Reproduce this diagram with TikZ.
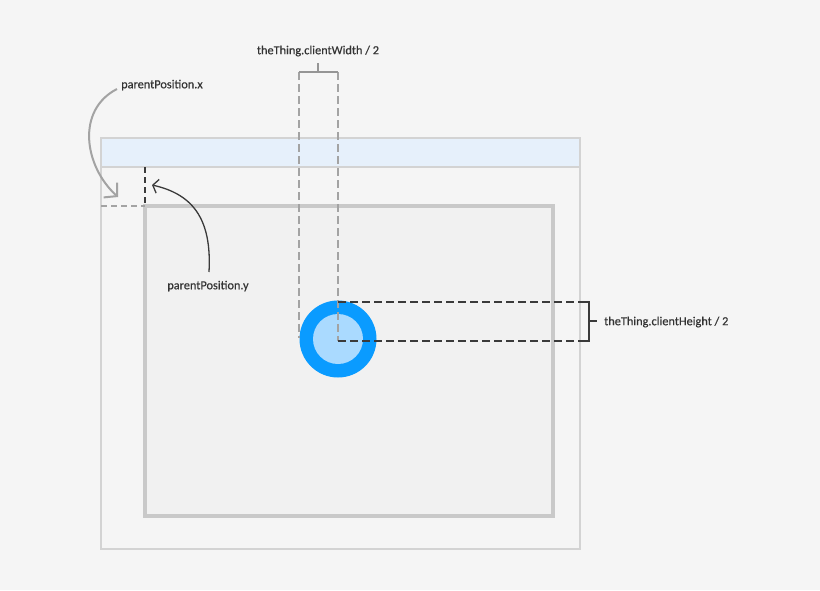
\documentclass[tikz,border=0pt]{standalone}
\usepackage{fontspec}
\setmainfont{Carlito}[FakeBold=0.4]
\usetikzlibrary{arrows.meta}
\definecolor{bgcol}{HTML}{F5F5F5}
\definecolor{innerfill}{HTML}{F1F1F1}
\definecolor{innerborder}{HTML}{C9C9C9}
\definecolor{winborder}{HTML}{D3D3D3}
\definecolor{titlefill}{HTML}{E6F0FB}
\definecolor{ringblue}{HTML}{0A9BFF}
\definecolor{coreblue}{HTML}{AADAFF}
\definecolor{dashgrey}{HTML}{A3A3A3}
\definecolor{brgrey}{HTML}{959595}
\definecolor{darkline}{HTML}{3A3A3A}
\definecolor{txt}{HTML}{333333}
\tikzset{
  box/.style={rectangle, inner sep=0pt, outer sep=0pt, anchor=north west},
  lbl/.style={text=txt, font=\fontsize{12.3}{14}\selectfont, inner sep=0pt},
  greydash/.style={draw=dashgrey, line width=2pt, dash pattern=on 8pt off 4pt},
  darkdash/.style={draw=darkline, line width=2.2pt, dash pattern=on 8pt off 4pt},
  greybracket/.style={draw=brgrey, line width=2pt},
  darkbracket/.style={draw=darkline, line width=2pt},
}
\begin{document}
\begin{tikzpicture}[x=1pt,y=-1pt]
\fill[bgcol] (0,0) rectangle (820,590);
\useasboundingbox (0,0) rectangle (820,590);
% outer window
\node[box, draw=winborder, line width=1.3pt, fill=bgcol, minimum width=479pt, minimum height=411pt] (win) at (101,138) {};
\node[box, draw=winborder, line width=1.3pt, fill=titlefill, minimum width=479pt, minimum height=29pt] (title) at (101,138) {};
% inner container
\node[box, draw=innerborder, line width=4pt, fill=innerfill, minimum width=408pt, minimum height=310pt] (inner) at (145,206) {};
% the thing
\node[circle, fill=ringblue, minimum size=77pt, inner sep=0pt] (ring) at (338,339) {};
\node[circle, fill=coreblue, minimum size=50pt, inner sep=0pt] (core) at (338,339) {};
% coordinates
\coordinate (wl) at (299,72);
\coordinate (wr) at (338,72);
\coordinate (wt) at (318,63);
\coordinate (wm) at (318,72);
\coordinate (wlb) at (299,338);
\coordinate (wrb) at (338,341);
\coordinate (ht) at (338,302);
\coordinate (hte) at (589,302);
\coordinate (hbe) at (589,341);
\coordinate (hm) at (589,321);
\coordinate (htick) at (597,321);
% width guides
\draw[greydash] (wl) -- (wlb);
\draw[greydash] (wr) -- (wrb);
\draw[greybracket] (wl) -- (wr) (wm) -- (wt);
% height guides
\draw[darkdash] (ht) -- (585,302);
\draw[darkdash] (wrb) -- (585,341);
\draw[darkbracket] (584,302) -- (hte) -- (hbe) -- (584,341) (hm) -- (htick);
% parent position guides
\coordinate (px0) at (101,206);
\coordinate (pcorner) at (145,206);
\coordinate (py0) at (145,167);
\draw[draw=dashgrey, line width=1.6pt, dash pattern=on 6pt off 4pt] (px0) -- (pcorner);
\draw[draw=darkline, line width=1.5pt, dash pattern=on 6pt off 4pt] (py0) -- (pcorner);
% labels
\node[lbl, anchor=west] (lpx) at (121,85) {parentPosition.x};
\node[lbl] (lpy) at (208,286) {parentPosition.y};
\node[lbl] (lcw) at (318,51) {theThing.clientWidth / 2};
\node[lbl, anchor=west] (lch) at (604,322) {theThing.clientHeight / 2};
% arrows
\coordinate (pxtip) at (118,197);
\coordinate (pytip) at (152,185);
\draw[draw=dashgrey, line width=2pt, -{Straight Barb[length=9pt,width=20pt,line width=2pt]}] (117,89) .. controls (76,110) and (84,166) .. (pxtip);
\draw[draw=darkline, line width=1.3pt, -{Straight Barb[length=5pt,width=14pt,line width=1.3pt]}] (209,272) .. controls (212,218) and (192,194) .. (pytip);
\end{tikzpicture}
\end{document}
